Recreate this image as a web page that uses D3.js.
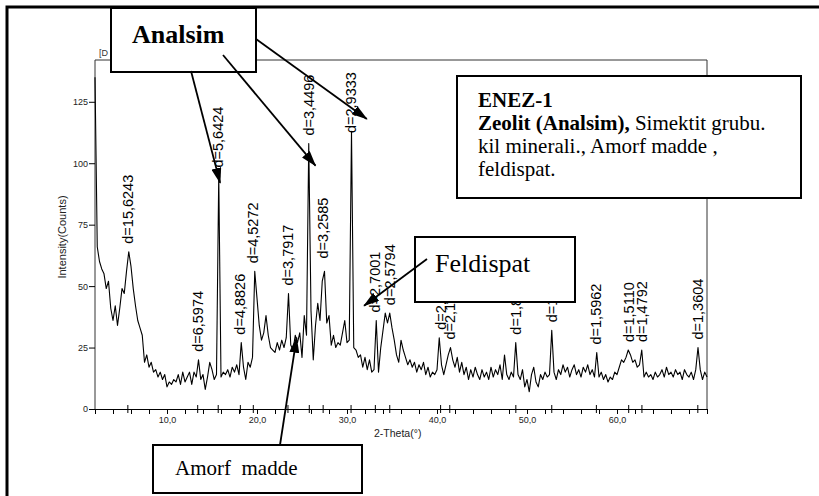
<!DOCTYPE html>
<html>
<head>
<meta charset="utf-8">
<script src="https://cdn.jsdelivr.net/npm/d3@7"></script>
<style>
  html, body { margin: 0; padding: 0; background: #fff; }
  svg { display: block; }
  .serif { font-family: "Liberation Serif", "Times New Roman", "DejaVu Serif", serif; }
  .sans { font-family: "Liberation Sans", Arial, sans-serif; }
</style>
</head>
<body>
<svg id="chart"></svg>
<script>
// XRD profile, ENEZ-1 sample: counts on a 0.25 degree 2-theta step from 2.00 to 70.00
const startTheta = 2;
const stepTheta = 0.25;
const counts = [
  135, 66, 60, 57,   55, 49, 52, 41,   36, 42, 34, 41,   49, 47, 56, 64,
  58, 49, 42, 36,    33, 30, 19, 22,   17, 19, 15, 16,   13, 15, 12, 14,
  9, 11, 10, 12,     11, 14, 10, 15,   11, 13, 15, 10,   15, 13, 20, 12,
  14, 8, 13, 19,     16, 12, 14, 95,   13, 15, 14, 16,   13, 17, 15, 18,
  14, 27, 17, 12,    19, 17, 21, 56,   45, 34, 28, 31,   38, 30, 25, 24,
  23, 27, 24, 28,    25, 29, 47, 26,   24, 30, 27, 31,   21, 38, 30, 108,
  40, 20, 34, 43,    36, 52, 56, 35,   38, 26, 30, 25,   27, 26, 31, 36,
  27, 28, 113, 25,   24, 21, 22, 17,   21, 16, 20, 15,   16, 36, 15, 25,
  32, 39, 35, 39,    33, 28, 22, 19,   28, 24, 21, 18,   20, 17, 19, 15,
  18, 16, 19, 14,    17, 13, 15, 14,   16, 29, 18, 14,   18, 22, 25, 20,
  17, 21, 15, 19,    14, 17, 12, 16,   13, 17, 14, 12,   16, 13, 15, 12,
  17, 13, 16, 14,    18, 12, 22, 14,   12, 15, 13, 27,   14, 12, 16, 9,
  12, 7, 14, 17,     11, 9, 14, 12,    15, 13, 14, 32,   15, 12, 16, 14,
  18, 15, 17, 13,    16, 18, 14, 16,   13, 17, 15, 18,   14, 16, 13, 23,
  13, 15, 12, 14,    11, 13, 12, 15,   14, 17, 20, 19,   21, 24, 22, 19,
  20, 17, 18, 24,    13, 15, 13, 14,   12, 15, 13, 14,   16, 13, 17, 14,
  15, 13, 16, 14,    15, 12, 16, 14,   13, 15, 12, 16,   25, 16, 12, 15,
  13
];

// labelled reflections
const peakLabels = ["d=15,6243", "d=6,5974", "d=5,6424", "d=4,8826", "d=4,5272", "d=3,7917",
  "d=3,4496", "d=3,2585", "d=2,9333", "d=2,7001", "d=2,5794", "d=2,2310", "d=2,1793",
  "d=1,8664", "d=1,7339", "d=1,5962", "d=1,5110", "d=1,4792", "d=1,3604"];
const peakTheta = [5.65, 13.41, 15.69, 18.15, 19.59, 23.44, 25.81, 27.35, 30.45, 33.15,
  34.75, 40.40, 41.42, 48.76, 52.75, 57.71, 61.30, 62.77, 68.98];
const peakCounts = [64, 20, 95, 27, 56, 47, 108, 58, 113, 36, 39, 29, 25, 27, 32, 23, 24, 24, 25];

const xTicks = [10, 20, 30, 40, 50, 60];
const yTicks = [0, 25, 50, 75, 100, 125];

const infoLines = [
  [{ t: "ENEZ-1", b: true }],
  [{ t: "Zeolit (Analsim),", b: true }, { t: " Simektit grubu.", b: false }],
  [{ t: "kil minerali., Amorf madde ,", b: false }],
  [{ t: "feldispat.", b: false }]
];

// arrow tips in data units (2-theta, counts)
const analsimTips = [[15.9, 92], [26.5, 99], [32.2, 118]];
const feldispatTip = [31.9, 42];
const amorfTip = [24.4, 29];

const W = 819, H = 496;
const svg = d3.select("#chart").attr("width", W).attr("height", H);

svg.append("rect").attr("width", W).attr("height", H).attr("fill", "#fff");

// outer frame (runs off the right and bottom edges)
svg.append("rect")
  .attr("x", 7).attr("y", 7).attr("width", 900).attr("height", 600)
  .attr("fill", "none").attr("stroke", "#000").attr("stroke-width", 3);

const defs = svg.append("defs");
defs.append("marker")
  .attr("id", "head")
  .attr("viewBox", "0 0 16 10")
  .attr("refX", 15).attr("refY", 5)
  .attr("markerWidth", 16).attr("markerHeight", 10)
  .attr("markerUnits", "userSpaceOnUse")
  .attr("orient", "auto")
  .append("path").attr("d", "M0,0 L16,5 L0,10 Z").attr("fill", "#000");

const x = d3.scaleLinear().domain([2, 70]).range([95, 707]);
const y = d3.scaleLinear().domain([0, 142]).range([409, 60]);

// plot frame top and right
svg.append("path")
  .attr("d", `M${x(2)},${y(142)} H${x(70)} V${y(0)}`)
  .attr("fill", "none").attr("stroke", "#333").attr("stroke-width", 1);

svg.append("text").attr("class", "sans").attr("x", 99).attr("y", 56)
  .attr("font-size", 9).attr("fill", "#333").text("[D");

// axes
const xAxis = svg.append("g").attr("transform", `translate(0,${y(0)})`)
  .call(d3.axisBottom(x)
    .tickValues(d3.range(2, 71, 2))
    .tickSize(5).tickSizeOuter(0).tickPadding(3)
    .tickFormat(d => xTicks.includes(d) ? d.toFixed(1).replace(".", ",") : ""));
xAxis.select(".domain").attr("stroke", "#000");
xAxis.selectAll(".tick line").attr("stroke", "#000");
xAxis.selectAll("text").attr("class", "sans").attr("font-size", 9).attr("fill", "#222");

// peak markers crossing the axis
svg.append("g").selectAll("line").data(peakTheta).join("line")
  .attr("x1", d => x(d)).attr("x2", d => x(d))
  .attr("y1", y(0) - 4).attr("y2", y(0) + 4)
  .attr("stroke", "#000");

const yAxis = svg.append("g").attr("transform", `translate(${x(2)},0)`)
  .call(d3.axisLeft(y).tickValues(yTicks).tickSize(6).tickSizeOuter(0).tickPadding(1));
yAxis.select(".domain").attr("stroke", "#333")
  .attr("d", `M0,${y(0)}V${y(142)}`);
yAxis.selectAll(".tick line").attr("stroke", "#000");
yAxis.selectAll("text").attr("class", "sans").attr("font-size", 9).attr("fill", "#222");

svg.append("text").attr("class", "sans")
  .attr("transform", `translate(66,237) rotate(-90)`)
  .attr("text-anchor", "middle").attr("font-size", 11).attr("fill", "#222")
  .text("Intensity(Counts)");

svg.append("text").attr("class", "sans")
  .attr("x", 374).attr("y", 437)
  .attr("font-size", 10.5).attr("fill", "#222")
  .text("2-Theta(°)");

// profile
const profile = counts.map((c, i) => ({ t: startTheta + i * stepTheta, c }));
svg.append("path")
  .datum(profile)
  .attr("fill", "none").attr("stroke", "#000").attr("stroke-width", 1.1)
  .attr("stroke-linejoin", "round")
  .attr("d", d3.line().x(d => x(d.t)).y(d => y(d.c)));

// d-spacing labels
svg.append("g").selectAll("text").data(peakLabels).join("text")
  .attr("class", "sans")
  .attr("font-size", 14.5)
  .attr("fill", "#000")
  .attr("transform", (d, i) => {
    const bottom = Math.max(y(peakCounts[i]) - 8, 133);
    return `translate(${x(peakTheta[i]) + 5},${bottom}) rotate(-90)`;
  })
  .text(d => d);

// annotation boxes
function box(x0, y0, w, h) {
  svg.append("rect").attr("x", x0).attr("y", y0).attr("width", w).attr("height", h)
    .attr("fill", "#fff").attr("stroke", "#000").attr("stroke-width", 2);
}
function arrow(x1, y1, tip) {
  svg.append("line")
    .attr("x1", x1).attr("y1", y1)
    .attr("x2", x(tip[0])).attr("y2", y(tip[1]))
    .attr("stroke", "#000").attr("stroke-width", 1.8)
    .attr("marker-end", "url(#head)");
}

// Analsim
box(111, 8, 145, 64);
svg.append("text").attr("class", "serif").attr("x", 132).attr("y", 43)
  .attr("font-weight", "bold").attr("font-size", 26)
  .text("Analsim");
arrow(191, 71, analsimTips[0]);
arrow(223, 55, analsimTips[1]);
arrow(256, 39, analsimTips[2]);

// ENEZ-1 info
box(457, 76, 344, 122);
const info = svg.append("text").attr("class", "serif").attr("font-size", 21);
infoLines.forEach((line, i) => {
  const t = info.append("tspan").attr("x", 478).attr("y", 107 + i * 23);
  line.forEach(seg => {
    t.append("tspan").attr("font-weight", seg.b ? "bold" : "normal").text(seg.t);
  });
});

// Feldispat
box(415, 237, 160, 65);
svg.append("text").attr("class", "serif").attr("x", 435).attr("y", 272)
  .attr("font-size", 26).text("Feldispat");
arrow(427, 259, feldispatTip);

// Amorf madde
box(153, 445, 209, 48);
svg.append("text").attr("class", "serif").attr("x", 175).attr("y", 475)
  .attr("font-size", 21)
  .style("white-space", "pre").text("Amorf  madde");
arrow(280, 445, amorfTip);
</script>
</body>
</html>
